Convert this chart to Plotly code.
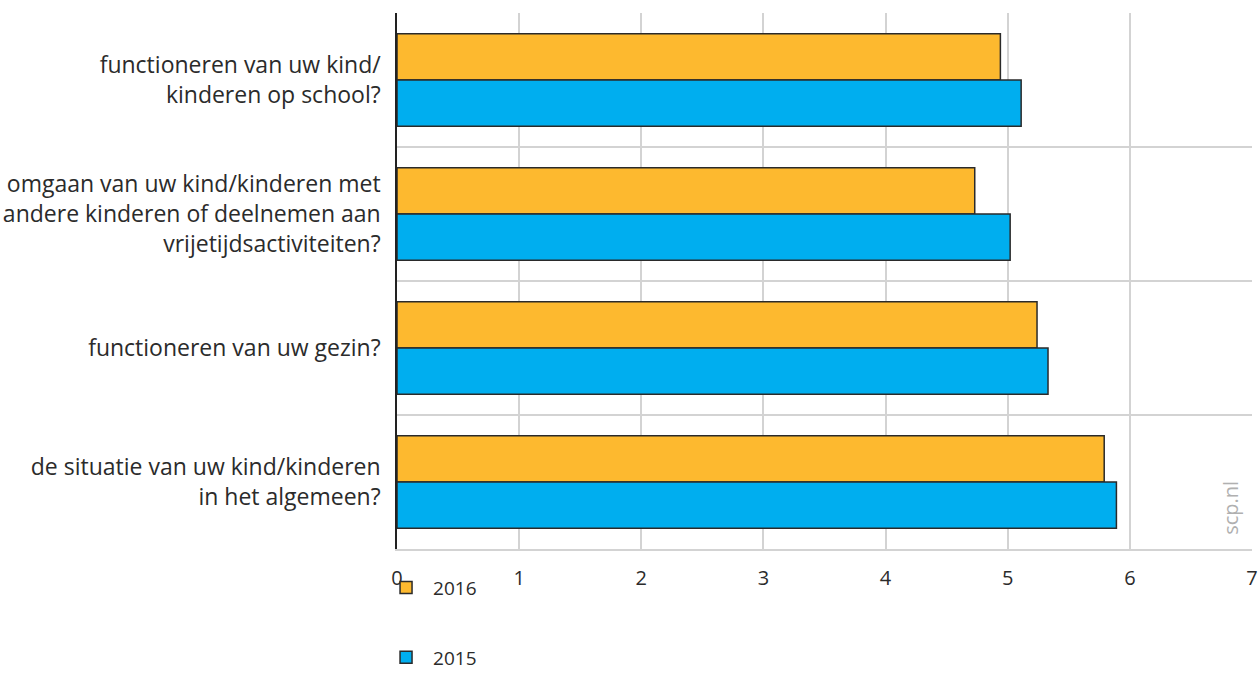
import plotly.graph_objects as go

categories = [
    "functioneren van uw kind/<br>kinderen op school?",
    "omgaan van uw kind/kinderen met<br>andere kinderen of deelnemen aan<br>vrijetijdsactiviteiten?",
    "functioneren van uw gezin?",
    "de situatie van uw kind/kinderen<br>in het algemeen?",
]
values_2016 = [4.94, 4.73, 5.24, 5.79]
values_2015 = [5.11, 5.02, 5.33, 5.89]
series_names = ["2016", "2015"]
x_ticks = [0, 1, 2, 3, 4, 5, 6, 7]

FONT = "Open Sans"
TXT = "#2b2b2b"
GRID = "#d3d3d3"

pos = list(range(len(categories)))

fig = go.Figure()
fig.add_trace(go.Bar(
    y=pos, x=values_2016, name=series_names[0], orientation="h",
    marker=dict(color="#FDB92F", line=dict(color="#2a2a2a", width=1.5)),
    legendgroup="a",
))
fig.add_trace(go.Bar(
    y=pos, x=values_2015, name=series_names[1], orientation="h",
    marker=dict(color="#00AEEF", line=dict(color="#2a2a2a", width=1.5)),
    legendgroup="b",
))

fig.update_layout(
    width=1258, height=673,
    margin=dict(l=397, r=6, t=13, b=124),
    plot_bgcolor="white", paper_bgcolor="white",
    barmode="group", bargap=0.31, bargroupgap=0,
    font=dict(family=FONT, size=20, color=TXT),
    showlegend=True,
    legend=dict(
        xref="paper", yref="container",
        x=-0.021, xanchor="left", y=0.155, yanchor="top",
        orientation="v", traceorder="grouped", tracegroupgap=42,
        itemwidth=44,
        font=dict(family=FONT, size=19, color=TXT),
        bgcolor="rgba(0,0,0,0)",
    ),
    xaxis=dict(
        range=[0, 7], tickvals=x_ticks, ticktext=[str(v) for v in x_ticks],
        showgrid=True, gridcolor=GRID, gridwidth=1.5,
        showline=True, linecolor=GRID, linewidth=2,
        zeroline=False, ticks="", ticklabelstandoff=10,
        tickfont=dict(family=FONT, size=20, color=TXT),
        automargin=False,
    ),
    yaxis=dict(
        range=[3.5, -0.5],
        tickmode="array", tickvals=pos, ticktext=categories,
        showgrid=False, zeroline=False,
        showline=True, linecolor="#222222", linewidth=1.5,
        ticks="", ticklabelstandoff=10,
        tickfont=dict(family=FONT, size=23, color=TXT),
        automargin=False,
        minor=dict(tickmode="array", tickvals=[-0.5, 0.5, 1.5, 2.5, 3.5],
                   showgrid=True, gridcolor=GRID, gridwidth=1.5, ticks=""),
    ),
    annotations=[dict(
        text="scp.nl", xref="paper", yref="paper", x=0.975, y=0.022,
        xanchor="center", yanchor="bottom", textangle=-90, showarrow=False,
        font=dict(family=FONT, size=20, color="#b0b0b0"),
    )],
)

fig.write_html(
    "out.html",
    config={"displayModeBar": False},
    post_script="document.body.style.margin='0';document.body.style.overflow='hidden';",
)
